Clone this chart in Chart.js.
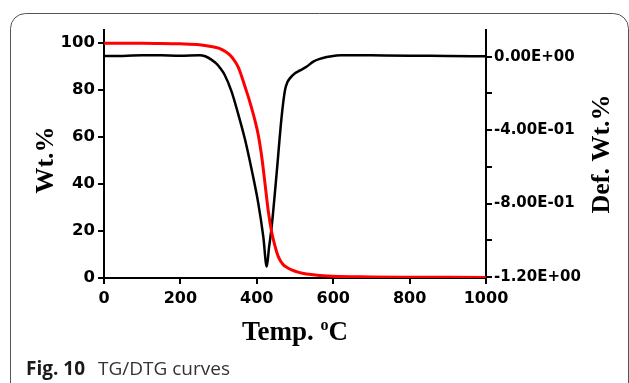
<!DOCTYPE html>
<html>
<head>
<meta charset="utf-8">
<script src="https://cdn.jsdelivr.net/npm/chart.js@4"></script>
<style>
html,body{margin:0;padding:0;background:#fff;}
canvas{display:block;}
</style>
</head>
<body>
<canvas id="c" width="629" height="383"></canvas>
<script>
// ---- data ----
const TG_TEMP = [0, 50, 100, 150, 200, 250, 280, 300, 316, 330, 343, 352, 360, 370, 378, 387, 395, 404, 413, 422, 430, 439, 448, 456, 463, 469, 480, 491, 510, 530, 565, 600, 700, 800, 900, 1000];
const TG_WT   = [100, 100, 100, 99.9, 99.7, 99.3, 98.6, 97.9, 96.6, 94.9, 92.2, 89.6, 86, 81, 77, 72, 67.2, 60.8, 51.5, 39.5, 28.5, 19.5, 13.4, 9.2, 7, 5.7, 4.4, 3.5, 2.4, 1.7, 1.1, 0.7, 0.45, 0.35, 0.3, 0.25];

const DTG_TEMP = [0, 50, 100, 150, 200, 250, 265, 280, 295, 305, 316, 334, 351, 369, 387, 404, 417, 426, 432, 439, 452, 465, 474, 480, 487, 500, 513, 530, 548, 565, 583, 600, 620, 650, 700, 800, 900, 1000];
const DTG_VAL  = [0.004, 0.004, 0.008, 0.007, 0.005, 0.008, 0.002, -0.015, -0.04, -0.065, -0.1, -0.19, -0.31, -0.45, -0.62, -0.80, -0.98, -1.143, -1.04, -0.925, -0.634, -0.326, -0.18, -0.14, -0.117, -0.09, -0.075, -0.055, -0.027, -0.012, -0.002, 0.004, 0.007, 0.008, 0.007, 0.005, 0.004, 0.002];

const X_TICKS = [0, 200, 400, 600, 800, 1000];
const LEFT_TICKS = [0, 20, 40, 60, 80, 100];
const RIGHT_TICKS = [0, -0.2, -0.4, -0.6, -0.8, -1.0, -1.2];
const RIGHT_LABELS = ['0.00E+00', '', '-4.00E-01', '', '-8.00E-01', '', '-1.20E+00'];

const TITLE_X = 'Temp. ';
const TITLE_X_SUP = 'o';
const TITLE_X_END = 'C';
const TITLE_LEFT = 'Wt.%';
const TITLE_RIGHT = 'Def. Wt.%';
const CAPTION_BOLD = 'Fig. 10';
const CAPTION_TEXT = 'TG/DTG curves';

const tg = TG_TEMP.map((t, i) => ({x: t, y: TG_WT[i]}));
const dtg = DTG_TEMP.map((t, i) => ({x: t, y: DTG_VAL[i]}));

const tickFont = (s) => ({family: '"DejaVu Sans"', size: s, weight: 'bold'});
const gridCfg = {display: true, drawOnChartArea: false, drawTicks: true, tickLength: 6, color: '#000', lineWidth: 2};
const borderCfg = {display: true, color: '#000', width: 2};

const decor = {
  id: 'decor',
  beforeDraw(chart) {
    const ctx = chart.ctx;
    ctx.save();
    ctx.fillStyle = '#fff';
    ctx.fillRect(0, 0, chart.width, chart.height);
    ctx.strokeStyle = '#555';
    ctx.lineWidth = 1;
    ctx.beginPath();
    ctx.roundRect(10.5, 13.5, 618, 420, 15);
    ctx.stroke();
    ctx.restore();
  },
  afterDraw(chart) {
    const ctx = chart.ctx;
    ctx.save();
    ctx.fillStyle = '#000';
    ctx.font = 'bold 26px "Liberation Serif"';
    ctx.textAlign = 'center';
    ctx.textBaseline = 'middle';
    ctx.save();
    ctx.translate(46, 160);
    ctx.rotate(-Math.PI / 2);
    ctx.fillText(TITLE_LEFT, 0, 0);
    ctx.restore();
    ctx.save();
    ctx.translate(602, 154);
    ctx.rotate(-Math.PI / 2);
    ctx.fillText(TITLE_RIGHT, 0, 0);
    ctx.restore();
    ctx.textAlign = 'left';
    ctx.textBaseline = 'alphabetic';
    const big = 'bold 27px "Liberation Serif"';
    const small = 'bold 16px "Liberation Serif"';
    ctx.font = big;
    const w1 = ctx.measureText(TITLE_X).width;
    const w3 = ctx.measureText(TITLE_X_END).width;
    ctx.font = small;
    const w2 = ctx.measureText(TITLE_X_SUP).width;
    let x = 295 - (w1 + w2 + w3) / 2;
    const base = 340;
    ctx.font = big;
    ctx.fillText(TITLE_X, x, base);
    x += w1;
    ctx.font = small;
    ctx.fillText(TITLE_X_SUP, x, base - 10);
    x += w2;
    ctx.font = big;
    ctx.fillText(TITLE_X_END, x, base);
    ctx.fillStyle = '#1a1a1a';
    ctx.font = 'bold 19px "Open Sans"';
    ctx.fillText(CAPTION_BOLD, 26, 375);
    ctx.font = '19px "Open Sans"';
    ctx.fillStyle = '#333';
    ctx.fillText(CAPTION_TEXT, 98, 375);
    ctx.restore();
  }
};

new Chart(document.getElementById('c'), {
  type: 'line',
  data: {
    datasets: [
      {label: 'TG', data: tg, yAxisID: 'y', borderColor: '#ff0000', borderWidth: 3, pointRadius: 0, cubicInterpolationMode: 'monotone', fill: false},
      {label: 'DTG', data: dtg, yAxisID: 'y2', borderColor: '#000000', borderWidth: 2.5, pointRadius: 0, cubicInterpolationMode: 'monotone', fill: false}
    ]
  },
  options: {
    responsive: false,
    animation: false,
    devicePixelRatio: 1,
    layout: {padding: {top: 30, left: 0, right: 0, bottom: 0}},
    plugins: {legend: {display: false}, tooltip: {enabled: false}},
    scales: {
      x: {
        type: 'linear', position: 'bottom', min: 0, max: 1000,
        grid: gridCfg, border: borderCfg,
        afterBuildTicks: (s) => { s.ticks = X_TICKS.map(v => ({value: v})); },
        afterFit: (s) => { s.height = 105; },
        ticks: {color: '#000', font: tickFont(16), padding: 5, maxRotation: 0, autoSkip: false, callback: (v) => String(v)}
      },
      y: {
        type: 'linear', position: 'left', min: 0, max: 105.6,
        grid: gridCfg, border: borderCfg,
        afterBuildTicks: (s) => { s.ticks = LEFT_TICKS.map(v => ({value: v})); },
        afterFit: (s) => { s.width = 104; },
        ticks: {color: '#000', font: tickFont(16.5), padding: 3, autoSkip: false, callback: (v) => String(v)}
      },
      y2: {
        type: 'linear', position: 'right', min: -1.205, max: 0.145,
        grid: gridCfg, border: borderCfg,
        afterBuildTicks: (s) => { s.ticks = RIGHT_TICKS.map(v => ({value: v})); },
        afterFit: (s) => { s.width = 143; },
        ticks: {
          color: '#000', font: tickFont(15), padding: 2, autoSkip: false,
          callback: (v) => { const i = RIGHT_TICKS.findIndex(t => Math.abs(t - v) < 1e-9); return i >= 0 ? RIGHT_LABELS[i] : ''; }
        }
      }
    }
  },
  plugins: [decor]
});
</script>
</body>
</html>
